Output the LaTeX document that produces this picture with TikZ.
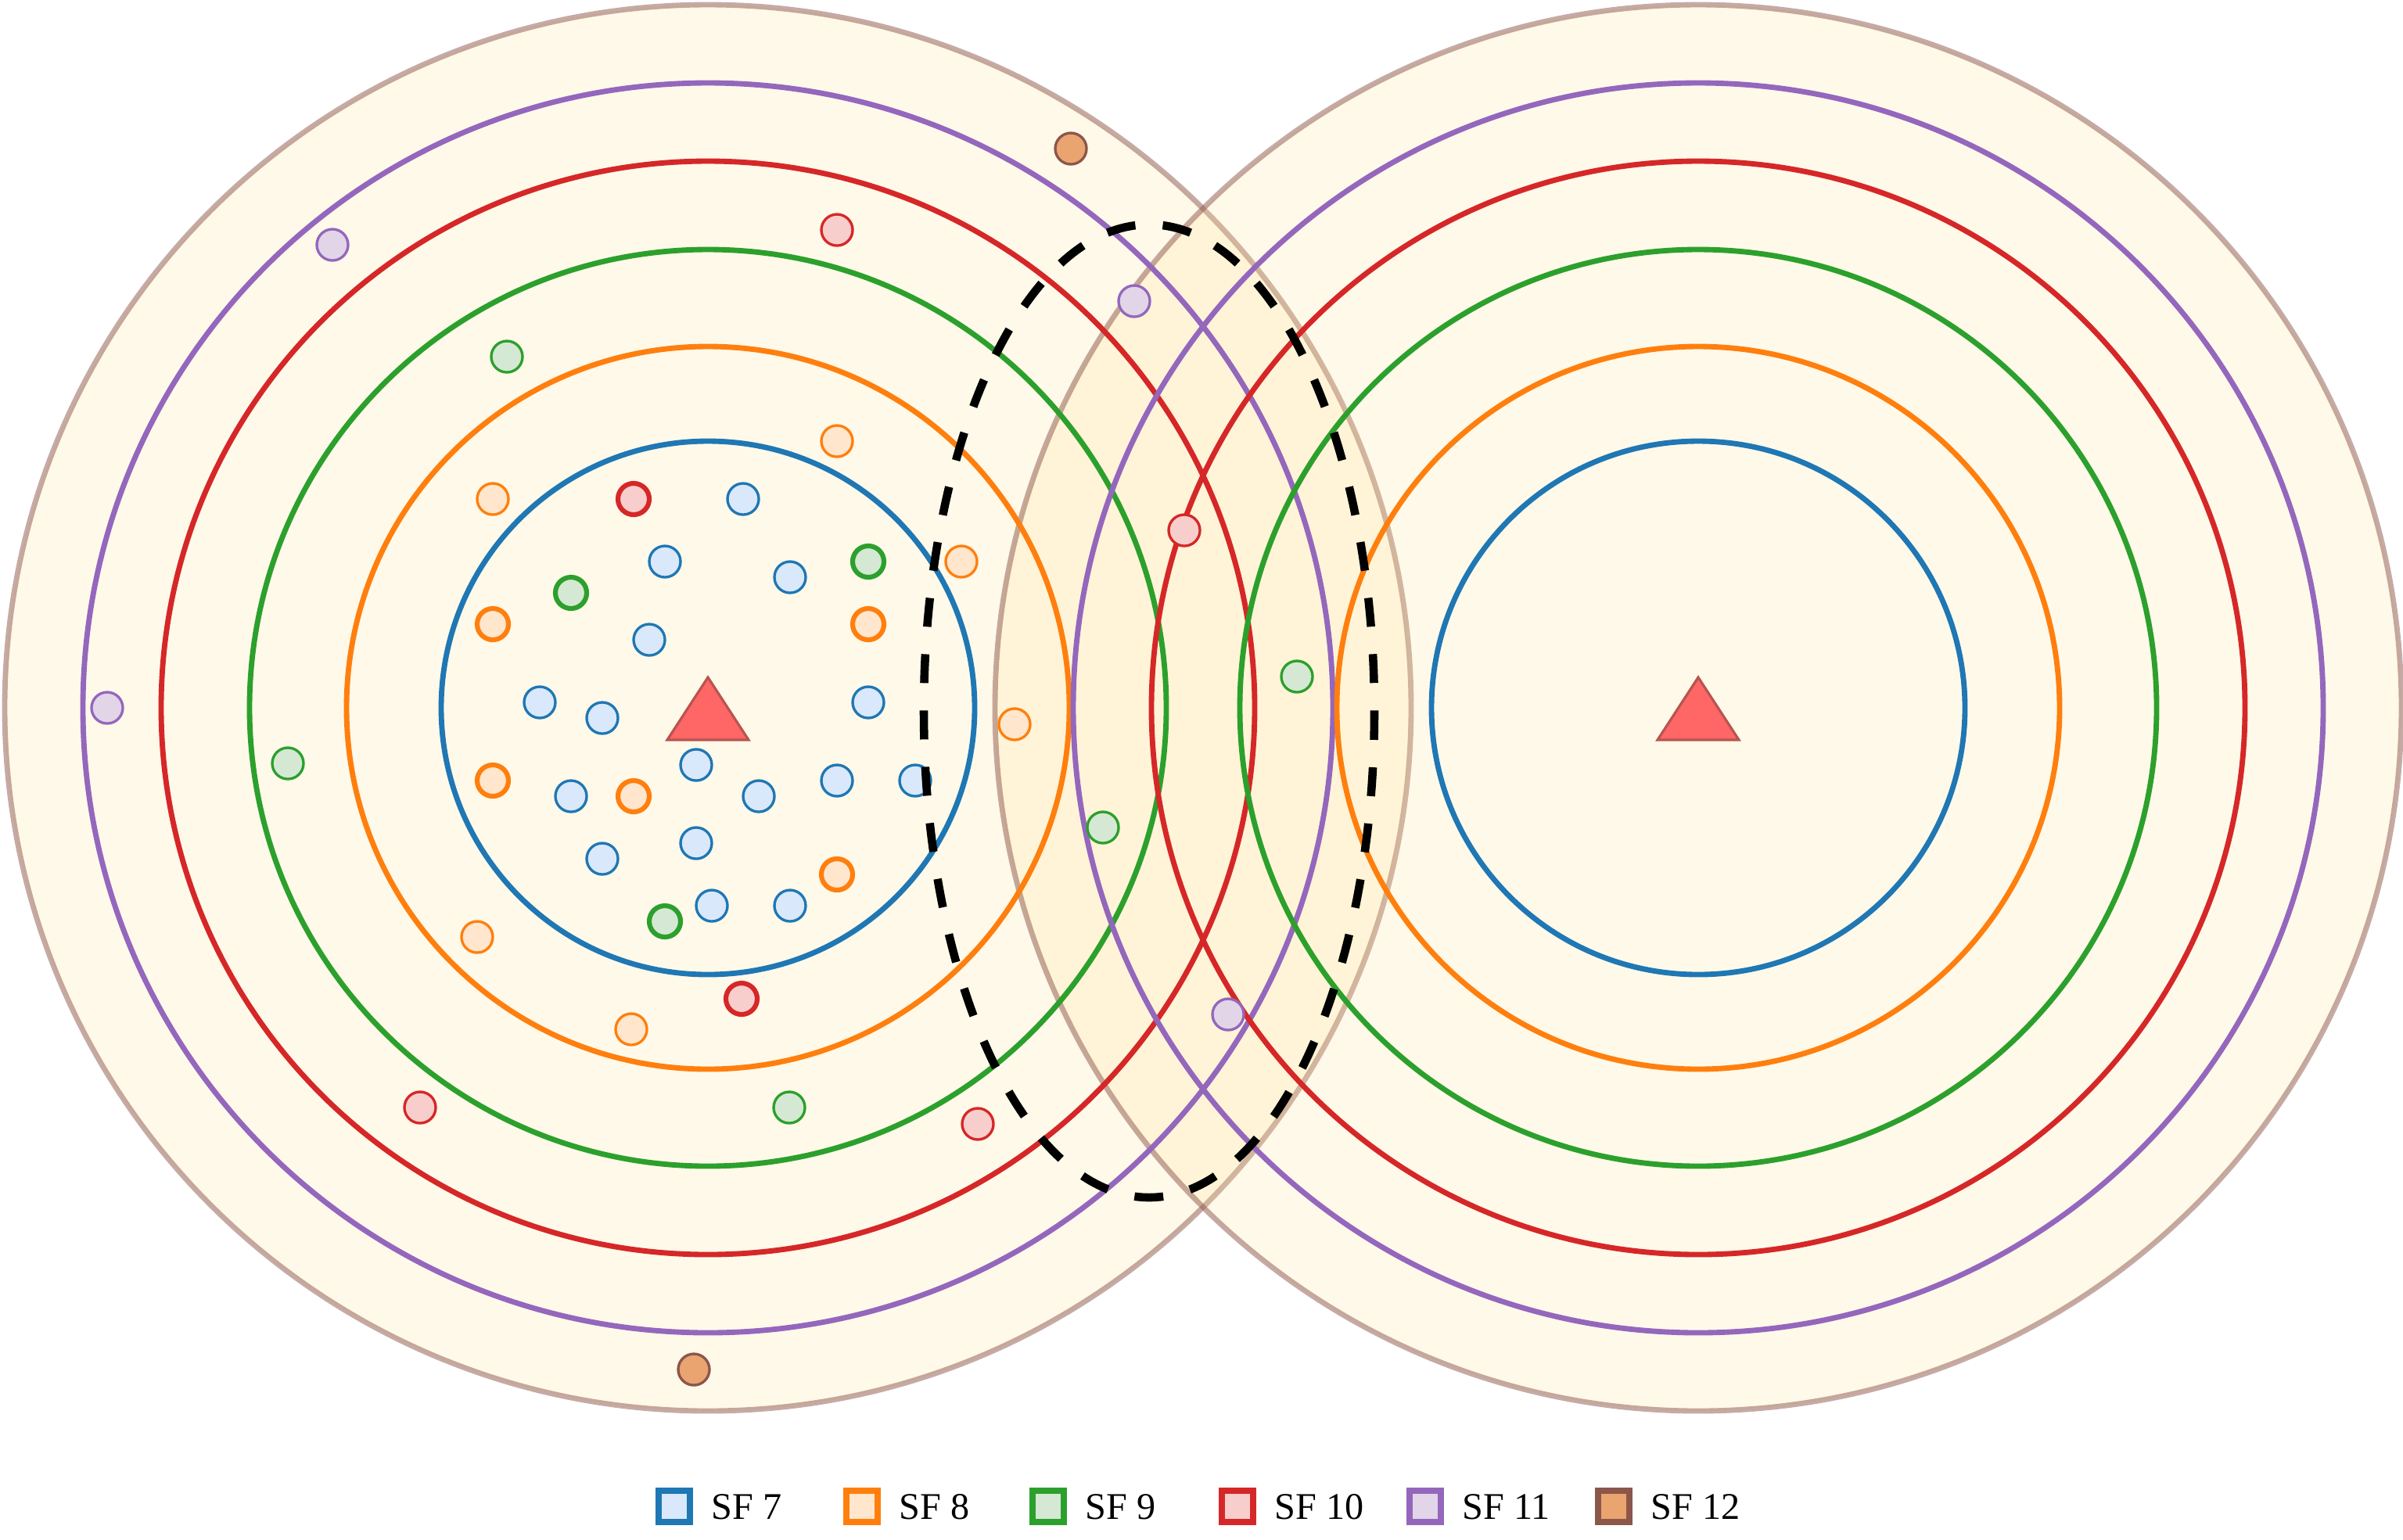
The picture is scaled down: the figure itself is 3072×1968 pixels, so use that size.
\documentclass[tikz,border=0pt]{standalone}
\usepackage{fontspec}
\setmainfont{Liberation Serif}
\definecolor{sfa}{HTML}{1F77B4}
\definecolor{sfb}{HTML}{FF7F0E}
\definecolor{sfc}{HTML}{2CA02C}
\definecolor{sfd}{HTML}{D62728}
\definecolor{sfe}{HTML}{9467BD}
\definecolor{sff}{HTML}{8C564B}
\definecolor{fla}{HTML}{DAE8FC}
\definecolor{flb}{HTML}{FFE6CC}
\definecolor{flc}{HTML}{D5E8D4}
\definecolor{fld}{HTML}{F8CECC}
\definecolor{fle}{HTML}{E1D5E7}
\definecolor{flf}{HTML}{E9A46F}
\definecolor{zonefill}{RGB}{255,226,153}
\definecolor{triedge}{HTML}{B85450}
\definecolor{trifill}{HTML}{FF6666}
\tikzset{
  ring/.style={line width=1.95pt},
  zone/.style={fill=zonefill, fill opacity=0.22, draw=sff, draw opacity=0.5, line width=1.95pt},
  dev/.style={circle, inner sep=0pt, minimum size=0.4cm},
  thinb/.style={line width=0.95pt},
  thickb/.style={line width=1.75pt},
  s7/.style={dev, thinb, draw=sfa, fill=fla},
  s8/.style={dev, thinb, draw=sfb, fill=flb},
  s9/.style={dev, thinb, draw=sfc, fill=flc},
  s10/.style={dev, thinb, draw=sfd, fill=fld},
  s11/.style={dev, thinb, draw=sfe, fill=fle},
  s12/.style={dev, thinb, draw=sff, fill=flf},
  gw/.style={draw=triedge, fill=trifill, line width=0.9pt, line join=miter},
  legbox/.style={line width=2.28pt, minimum size=0.4cm, inner sep=0pt},
  legtext/.style={anchor=west, inner sep=0pt, font=\fontsize{13.7}{16}\selectfont},
  region/.style={black, line width=3pt, dash pattern=on 10.5pt off 10pt}
}
\begin{document}
\begin{tikzpicture}[x=0.01cm, y=-0.01cm]
\useasboundingbox (0,0) rectangle (3072,1968);
% coverage zones
\path[zone] (905,905) circle[radius=899];
\path[zone] (2171,905) circle[radius=899];
% SF rings
\foreach \cx in {905,2171}{
  \draw[ring, sfa] (\cx,905) circle[radius=341];
  \draw[ring, sfb] (\cx,905) circle[radius=462];
  \draw[ring, sfc] (\cx,905) circle[radius=586];
  \draw[ring, sfd] (\cx,905) circle[radius=699];
  \draw[ring, sfe] (\cx,905) circle[radius=799];
}
% gateways
\draw[gw] (905,866) -- (957,946) -- (853,946) -- cycle;
\draw[gw] (2171,866) -- (2223,946) -- (2119,946) -- cycle;
% devices inside SF7 ring
\node[s7] (b1) at (950,638) {};
\node[s7] (b2) at (850,718) {};
\node[s7] (b3) at (1010,738) {};
\node[s7] (b4) at (830,818) {};
\node[s7] (b5) at (690,898) {};
\node[s7] (b6) at (770,918) {};
\node[s7] (b7) at (1110,898) {};
\node[s7] (b8) at (890,978) {};
\node[s7] (b9) at (730,1018) {};
\node[s7] (b10) at (970,1018) {};
\node[s7] (b11) at (1070,998) {};
\node[s7] (b12) at (1170,998) {};
\node[s7] (b13) at (770,1098) {};
\node[s7] (b14) at (890,1078) {};
\node[s7] (b15) at (910,1158) {};
\node[s7] (b16) at (1010,1158) {};
\node[s10, thickb] (r1) at (810,638) {};
\node[s9, thickb] (g1) at (1110,718) {};
\node[s9, thickb] (g2) at (730,758) {};
\node[s8, thickb] (o1) at (630,798) {};
\node[s8, thickb] (o2) at (1110,798) {};
\node[s8, thickb] (o3) at (630,998) {};
\node[s8, thickb] (o4) at (810,1018) {};
\node[s8, thickb] (o5) at (1070,1118) {};
\node[s9, thickb] (g3) at (850,1178) {};
\node[s10, thickb] (r2) at (948,1277) {};
% outer devices
\node[s8] (o6) at (630,638) {};
\node[s8] (o7) at (1070,564) {};
\node[s8] (o8) at (1229,718) {};
\node[s8] (o9) at (1297,926) {};
\node[s8] (o10) at (610,1198) {};
\node[s8] (o11) at (807,1316) {};
\node[s9] (g4) at (648,456) {};
\node[s9] (g5) at (368,976) {};
\node[s9] (g6) at (1410,1058) {};
\node[s9] (g7) at (1009,1416) {};
\node[s9] (g8) at (1658,865) {};
\node[s10] (r3) at (1070,294) {};
\node[s10] (r4) at (1514,678) {};
\node[s10] (r5) at (537,1416) {};
\node[s10] (r6) at (1250,1437) {};
\node[s11] (p1) at (425,313) {};
\node[s11] (p2) at (137,905) {};
\node[s11] (p3) at (1450,385) {};
\node[s11] (p4) at (1570,1297) {};
\node[s12] (k1) at (1369,190) {};
\node[s12] (k2) at (887,1751) {};
% overlap region
\draw[region] (1469,909) ellipse[x radius=288, y radius=622];
% legend
\node[legbox, draw=sfa, fill=fla] (l7) at (862,1926) {};
\node[legtext] (t7) at (909,1927) {SF 7};
\node[legbox, draw=sfb, fill=flb] (l8) at (1102,1926) {};
\node[legtext] (t8) at (1149,1927) {SF 8};
\node[legbox, draw=sfc, fill=flc] (l9) at (1340,1926) {};
\node[legtext] (t9) at (1387,1927) {SF 9};
\node[legbox, draw=sfd, fill=fld] (l10) at (1582,1926) {};
\node[legtext] (t10) at (1629,1927) {SF 10};
\node[legbox, draw=sfe, fill=fle] (l11) at (1822,1926) {};
\node[legtext] (t11) at (1869,1927) {SF 11};
\node[legbox, draw=sff, fill=flf] (l12) at (2063,1926) {};
\node[legtext] (t12) at (2110,1927) {SF 12};
\end{tikzpicture}
\end{document}
